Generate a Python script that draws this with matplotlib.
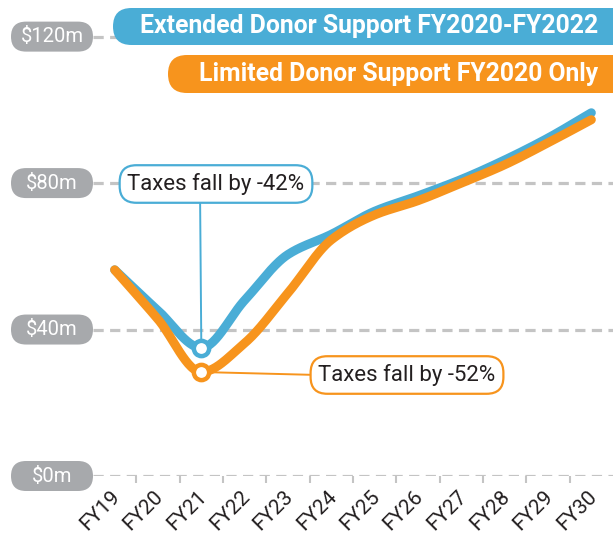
import numpy as np
import matplotlib
matplotlib.use('Agg')
from matplotlib import pyplot as plt
from matplotlib.patches import FancyBboxPatch
from matplotlib.transforms import IdentityTransform, ScaledTranslation

plt.rcParams['font.family'] = ['Roboto', 'DejaVu Sans']

years = ['FY19', 'FY20', 'FY21', 'FY22', 'FY23', 'FY24', 'FY25',
         'FY26', 'FY27', 'FY28', 'FY29', 'FY30']
extended = [56.3, 45.2, 35.0, 48.0, 60.5, 66.0, 72.3, 76.5, 81.0, 86.3, 92.3, 99.2]
limited = [56.3, 42.8, 28.4, 36.3, 50.0, 64.5, 71.3, 75.2, 80.0, 85.0, 91.0, 97.3]
ytick_vals = [0, 40, 80, 120]
ytick_labels = ['$0m', '$40m', '$80m', '$120m']
legend_labels = ['Extended Donor Support FY2020-FY2022', 'Limited Donor Support FY2020 Only']
callouts = ['Taxes fall by -42%', 'Taxes fall by -52%']

BLUE = '#4aadd6'
ORANGE = '#f7941d'
GREY = '#a7a9ac'
GRID = '#c4c4c4'
DARK = '#231f20'


def monotone(xs, ys, n=30):
    # monotone cubic (Fritsch-Carlson) smoothing, like d3 curveMonotoneX
    xs = np.asarray(xs, float)
    ys = np.asarray(ys, float)
    h = np.diff(xs)
    d = np.diff(ys) / h
    m = np.zeros(len(xs))
    m[0], m[-1] = d[0], d[-1]
    for i in range(1, len(xs) - 1):
        if d[i - 1] * d[i] <= 0:
            m[i] = 0
        else:
            w1 = 2 * h[i] + h[i - 1]
            w2 = h[i] + 2 * h[i - 1]
            m[i] = (w1 + w2) / (w1 / d[i - 1] + w2 / d[i])
    px, py = [], []
    for i in range(len(xs) - 1):
        t = np.linspace(0, 1, n, endpoint=(i == len(xs) - 2))
        h00 = 2 * t**3 - 3 * t**2 + 1
        h10 = t**3 - 2 * t**2 + t
        h01 = -2 * t**3 + 3 * t**2
        h11 = t**3 - t**2
        px.append(xs[i] + t * h[i])
        py.append(h00 * ys[i] + h10 * h[i] * m[i] + h01 * ys[i + 1] + h11 * h[i] * m[i + 1])
    return np.concatenate(px), np.concatenate(py)


W, H = 613, 541
fig = plt.figure(figsize=(W / 100, H / 100), dpi=100)
ax = fig.add_axes([93 / W, 65 / H, 1 - 93 / W, 1 - 65 / H])
ax.set_xlim(-0.5, 11.5)
ax.set_ylim(0, 130)
for s in ax.spines.values():
    s.set_visible(False)

x = np.arange(len(years))

# dashed gridlines
for v in ytick_vals:
    ax.axhline(v, color=GRID, lw=2.3, dashes=(3.2, 2.0), zorder=1)

# y labels as grey pills of fixed width
for v, lab in zip(ytick_vals, ytick_labels):
    yc = ax.transData.transform((0, v))[1]
    pill = FancyBboxPatch((11, yc - 15), 82, 30, boxstyle='round,pad=0,rounding_size=15',
                          transform=IdentityTransform(), fc=GREY, ec='none', zorder=2)
    fig.add_artist(pill)
    fig.text(52 / W, yc / H, lab.replace('$', '\\$'), ha='center', va='center',
             color='white', fontsize=14.5, zorder=3)

ax.set_yticks([])
ax.set_xticks(x)
ax.set_xticklabels(years, rotation=45, ha='right', va='top', fontsize=15, color=DARK)
ax.tick_params(axis='x', which='major', length=0, pad=8)
shift = ScaledTranslation(9 / 100, 0, fig.dpi_scale_trans)
for lbl in ax.get_xticklabels():
    lbl.set_transform(lbl.get_transform() + shift)
ax.set_xticks(x[:-1] + 0.5, minor=True)
ax.tick_params(axis='x', which='minor', length=5, width=1.5, color=GRID, direction='out')

lx, ly = monotone(x, limited)
bx, by = monotone(x, extended)
ax.plot(bx, by, color=BLUE, lw=6.5, solid_capstyle='round', zorder=3)
ax.plot(lx, ly, color=ORANGE, lw=6.5, solid_capstyle='round', zorder=4)

# callouts
ax.annotate(callouts[0], xy=(2, extended[2]), xytext=(216, H - 184), textcoords='figure pixels',
            ha='center', va='center', fontsize=16, color=DARK, zorder=5,
            bbox=dict(boxstyle='round,pad=0.35,rounding_size=0.75', fc='white', ec=BLUE, lw=1.6),
            arrowprops=dict(arrowstyle='-', color=BLUE, lw=1.4, relpos=(0.41, 0), shrinkA=0, shrinkB=0))
ax.annotate(callouts[1], xy=(2, limited[2]), xytext=(407, H - 375), textcoords='figure pixels',
            ha='center', va='center', fontsize=16, color=DARK, zorder=5,
            bbox=dict(boxstyle='round,pad=0.35,rounding_size=0.75', fc='white', ec=ORANGE, lw=1.6),
            arrowprops=dict(arrowstyle='-', color=ORANGE, lw=1.4, relpos=(0, 0.5), shrinkA=0, shrinkB=0))

ax.plot([2], [extended[2]], 'o', ms=11, mfc='white', mec=BLUE, mew=3.2, zorder=6)
ax.plot([2], [limited[2]], 'o', ms=11, mfc='white', mec=ORANGE, mew=3.2, zorder=6)

# legend pills at top
for (x0, y0, y1, col, lab) in [(113, 8, 45, BLUE, legend_labels[0]),
                               (168, 55, 93, ORANGE, legend_labels[1])]:
    hgt = y1 - y0
    patch = FancyBboxPatch((x0, H - y1), W + 40 - x0, hgt,
                           boxstyle='round,pad=0,rounding_size=%f' % (hgt / 2),
                           transform=IdentityTransform(), fc=col, ec='none', zorder=10)
    fig.add_artist(patch)
    fig.text(598 / W, (H - (y0 + y1) / 2) / H, lab, ha='right', va='center', color='white',
             fontsize=17.8, fontweight='bold', zorder=11)

fig.savefig('out.png', dpi=100)
